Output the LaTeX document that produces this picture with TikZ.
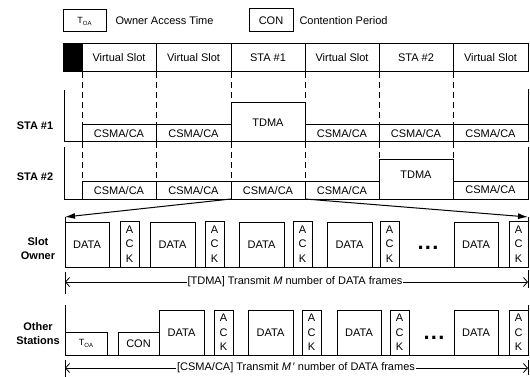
\documentclass[tikz,border=0pt]{standalone}
\usepackage{fontspec}
\setmainfont{Liberation Sans}
\usetikzlibrary{arrows.meta}
\newcommand\fsz{\fontsize{11}{13}\selectfont}
\newcommand\rbx[7]{\node[#6, minimum width={(#3-#2)*1pt}, minimum height={(#5-#4)*1pt}] (#1) at ({(#2+#3)/2},{(#4+#5)/2}) {#7};}
\newcommand\toa{{\fontsize{9}{10}\selectfont T\raisebox{-0.4ex}{\fontsize{6}{6}\selectfont OA}}}
\newcommand\ackt{A\\C\\K}
\newcommand\mydots{.\kern1.2pt.\kern1.2pt.}
\begin{document}
\begin{tikzpicture}[x=1pt,y=-1pt, line width=1pt,
  box/.style={draw, inner sep=0pt, outer sep=0pt, font=\fsz},
  ack/.style={box, align=center, font=\fontsize{11}{14.5}\selectfont},
  lbl/.style={font=\fontsize{11}{14}\selectfont\bfseries, align=center, inner sep=0pt},
  txt/.style={font=\fsz, inner sep=0pt},
  dots/.style={font=\fontsize{22}{22}\selectfont\bfseries, inner sep=0pt},
  vdash/.style={dash pattern=on 6pt off 4pt},
  tip/.style={-{Latex[length=10pt,width=6pt]}},
  barb/.style={-{Straight Barb[length=4pt,width=9pt,line width=0.8pt]}},
  ]
\useasboundingbox (0,0) rectangle (530,377);

% legend
\rbx{ltoa}{63}{106}{10}{32}{box}{\toa}
\node[txt, anchor=west] (ltoat) at (115,21) {Owner Access Time};
\rbx{lcon}{249}{293}{9}{32}{box}{CON}
\node[txt, anchor=west] (lcont) at (299,21) {Contention Period};

% top bar
\rbx{blk}{63}{82}{44}{72}{box, fill=black}{}
\rbx{t1}{82}{156}{44}{72}{box}{Virtual Slot}
\rbx{t2}{156}{231}{44}{72}{box}{Virtual Slot}
\rbx{t3}{231}{305}{44}{72}{box}{STA \#1}
\rbx{t4}{305}{379}{44}{72}{box}{Virtual Slot}
\rbx{t5}{379}{453}{44}{72}{box}{STA \#2}
\rbx{t6}{453}{528}{44}{72}{box}{Virtual Slot}

% STA #1 row
\draw (64,90) -- (64,142) -- (528,142) -- (528,89);
\rbx{r1a}{82}{156}{124.5}{142}{box}{CSMA/CA}
\rbx{r1b}{156}{231}{124.5}{142}{box}{CSMA/CA}
\rbx{r1c}{231}{305}{103}{142}{box}{TDMA}
\rbx{r1d}{305}{379}{124.5}{142}{box}{CSMA/CA}
\rbx{r1e}{379}{453}{124.5}{142}{box}{CSMA/CA}
\rbx{r1f}{453}{528}{124.5}{142}{box}{CSMA/CA}
\node[lbl] (l1) at (35,126) {STA \#1};

% STA #2 row
\draw (64,147) -- (64,199) -- (528,199) -- (528,147);
\rbx{r2a}{82}{156}{181.5}{199}{box}{CSMA/CA}
\rbx{r2b}{156}{231}{181.5}{199}{box}{CSMA/CA}
\rbx{r2c}{231}{305}{181.5}{199}{box}{CSMA/CA}
\rbx{r2d}{305}{379}{181.5}{199}{box}{CSMA/CA}
\rbx{r2e}{379}{453}{159}{199}{box, text depth=9pt}{TDMA}
\rbx{r2f}{453}{528}{181}{199}{box}{CSMA/CA}
\node[lbl] (l2) at (35,177) {STA \#2};

% dashed slot boundaries
\draw[vdash] (t1.south west) -- (r1a.north west);
\draw[vdash] (t2.south west) -- (r1b.north west);
\draw[vdash] (t3.south west) -- (r1c.north west);
\draw[vdash] (t4.south west) -- (r1d.north west);
\draw[vdash] (t5.south west) -- (r1e.north west);
\draw[vdash] (t6.south west) -- (r1f.north west);
\draw[vdash] (r1a.south west) -- (r2a.north west);
\draw[vdash] (r1b.south west) -- (r2b.north west);
\draw[vdash] (r1c.south west) -- (r2c.north west);
\draw[vdash] (r1d.south west) -- (r2d.north west);
\draw[vdash] (r1e.south west) -- (r2e.north west);
\draw[vdash] (r1f.south west) -- (r2f.north west);

% expansion arrows
\coordinate (sol) at (65,217);
\coordinate (sor) at (528,217);
\draw[tip] (r2c.south west) -- (sol);
\draw[tip] (r2c.south east) -- (sor);

% Slot Owner row
\draw (sol) -- (65,267) -- (528,267) -- (sor);
\rbx{so1}{65}{109}{222}{267}{box}{DATA}
\rbx{sa1}{120}{139}{221}{267}{ack}{\ackt}
\rbx{so2}{150}{195}{222}{267}{box}{DATA}
\rbx{sa2}{205}{224}{221}{267}{ack}{\ackt}
\rbx{so3}{239}{284}{222}{267}{box}{DATA}
\rbx{sa3}{293}{312}{221}{267}{ack}{\ackt}
\rbx{so4}{327}{372}{222}{267}{box}{DATA}
\rbx{sa4}{380}{399}{221}{267}{ack}{\ackt}
\node[dots] (sdots) at (428,248) {\mydots};
\rbx{so5}{454}{498}{222}{267}{box}{DATA}
\rbx{sa5}{509}{528}{221}{267}{ack}{\ackt}
\node[lbl] (l3) at (38,249) {Slot\\Owner};

% TDMA dimension
\coordinate (d1l) at (65,282);
\coordinate (d1r) at (528,282);
\draw (65,272) -- (65,294);
\draw (528,270) -- (528,288);
\node[txt, inner xsep=0.5pt] (dt1) at (295,282) {[TDMA] Transmit \textit{M} number of DATA frames};
\draw[barb] (dt1.west) -- (d1l);
\draw[barb] (dt1.east) -- (d1r);

% Other Stations row
\draw (65,305) -- (65,355) -- (528,355) -- (528,305);
\rbx{oc1}{65}{107}{332}{355}{box}{\toa}
\rbx{oc2}{118}{159}{332}{355}{box}{CON}
\rbx{od1}{159}{204}{310}{355}{box}{DATA}
\rbx{oa1}{214}{233}{310}{355}{ack}{\ackt}
\rbx{od2}{248}{293}{310}{355}{box}{DATA}
\rbx{oa2}{302}{321}{310}{355}{ack}{\ackt}
\rbx{od3}{337}{381}{310}{355}{box}{DATA}
\rbx{oa3}{390}{409}{310}{355}{ack}{\ackt}
\node[dots] (odots) at (434,338) {\mydots};
\rbx{od4}{454}{498}{310}{355}{box}{DATA}
\rbx{oa4}{509}{528}{310}{355}{ack}{\ackt}
\node[lbl] (l4) at (38,334) {Other\\Stations};

% CSMA/CA dimension
\coordinate (d2l) at (65,368);
\coordinate (d2r) at (528,368);
\draw (65,360) -- (65,377);
\draw (528,360) -- (528,375);
\node[txt, inner xsep=0.5pt] (dt2) at (296,368) {[CSMA/CA] Transmit \textit{M}\,′ number of DATA frames};
\draw[barb] (dt2.west) -- (d2l);
\draw[barb] (dt2.east) -- (d2r);
\end{tikzpicture}
\end{document}
